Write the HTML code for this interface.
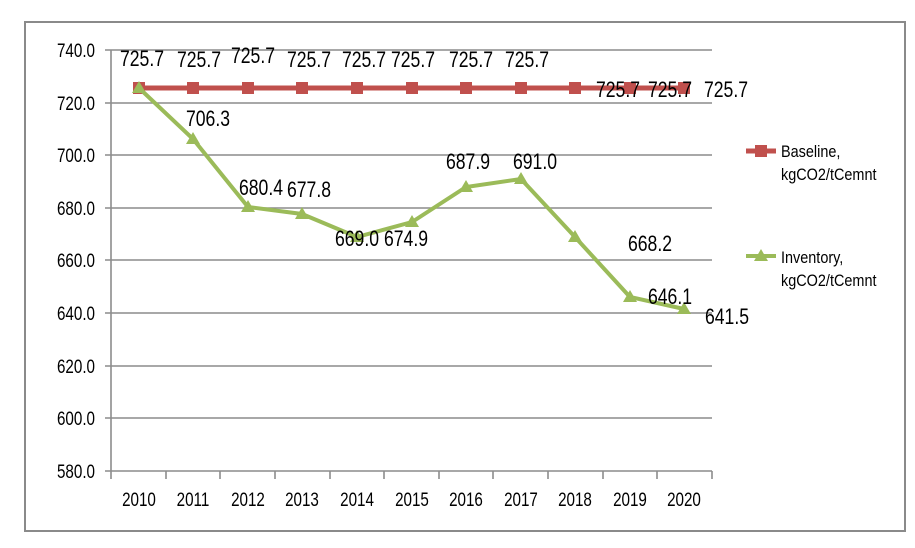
<!DOCTYPE html><html><head><style>body{margin:0;background:#fff}svg{display:block}text{font-family:"Liberation Sans",sans-serif;fill:#000;transform-box:fill-box;transform-origin:center;transform:scaleX(.8)}.r text{transform-origin:right center}.l text{transform-origin:left center;transform:scaleX(.85)}</style></head><body>
<svg width="915" height="548" xmlns="http://www.w3.org/2000/svg">
<rect x="25" y="22" width="880" height="509" fill="#fff" stroke="#8a8a8a" stroke-width="2"/>
<g stroke="#8c8c8c" stroke-width="1.6">
<line x1="105" y1="50" x2="712" y2="50"/><line x1="105" y1="103" x2="712" y2="103"/><line x1="105" y1="155" x2="712" y2="155"/><line x1="105" y1="208" x2="712" y2="208"/><line x1="105" y1="260" x2="712" y2="260"/><line x1="105" y1="313" x2="712" y2="313"/><line x1="105" y1="366" x2="712" y2="366"/><line x1="105" y1="418" x2="712" y2="418"/><line x1="105" y1="471" x2="712" y2="471"/>
<line x1="111" y1="50" x2="111" y2="479"/>
<line x1="166" y1="471" x2="166" y2="479"/><line x1="220" y1="471" x2="220" y2="479"/><line x1="275" y1="471" x2="275" y2="479"/><line x1="330" y1="471" x2="330" y2="479"/><line x1="384" y1="471" x2="384" y2="479"/><line x1="439" y1="471" x2="439" y2="479"/><line x1="493" y1="471" x2="493" y2="479"/><line x1="548" y1="471" x2="548" y2="479"/><line x1="603" y1="471" x2="603" y2="479"/><line x1="657" y1="471" x2="657" y2="479"/><line x1="712" y1="471" x2="712" y2="479"/>
</g>
<g font-size="19" text-anchor="end" class="r">
<text x="95" y="57">740.0</text><text x="95" y="110">720.0</text><text x="95" y="162">700.0</text><text x="95" y="215">680.0</text><text x="95" y="267">660.0</text><text x="95" y="320">640.0</text><text x="95" y="373">620.0</text><text x="95" y="425">600.0</text><text x="95" y="478">580.0</text>
</g>
<g font-size="19" text-anchor="middle">
<text x="139" y="506">2010</text><text x="193" y="506">2011</text><text x="248" y="506">2012</text><text x="302" y="506">2013</text><text x="357" y="506">2014</text><text x="412" y="506">2015</text><text x="466" y="506">2016</text><text x="521" y="506">2017</text><text x="575" y="506">2018</text><text x="630" y="506">2019</text><text x="684" y="506">2020</text>
</g>
<polyline fill="none" stroke="#c0504d" stroke-width="5" points="139,88 193,88 248,88 302,88 357,88 412,88 466,88 521,88 575,88 630,88 684,88"/>
<g fill="#c0504d">
<rect x="133" y="82" width="12" height="12"/><rect x="187" y="82" width="12" height="12"/><rect x="242" y="82" width="12" height="12"/><rect x="296" y="82" width="12" height="12"/><rect x="351" y="82" width="12" height="12"/><rect x="406" y="82" width="12" height="12"/><rect x="460" y="82" width="12" height="12"/><rect x="515" y="82" width="12" height="12"/><rect x="569" y="82" width="12" height="12"/><rect x="624" y="82" width="12" height="12"/><rect x="678" y="82" width="12" height="12"/>
</g>
<polyline fill="none" stroke="#9bbb59" stroke-width="4" points="139,88 193,139 248,207 302,214 357,237 412,222 466,187 521,179 575,237 630,297 684,309"/>
<g fill="#9bbb59">
<path d="M139,81 l7,12 h-14z"/><path d="M193,132 l7,12 h-14z"/><path d="M248,200 l7,12 h-14z"/><path d="M302,207 l7,12 h-14z"/><path d="M357,230 l7,12 h-14z"/><path d="M412,215 l7,12 h-14z"/><path d="M466,180 l7,12 h-14z"/><path d="M521,172 l7,12 h-14z"/><path d="M575,230 l7,12 h-14z"/><path d="M630,290 l7,12 h-14z"/><path d="M684,302 l7,12 h-14z"/>
</g>
<g font-size="22" text-anchor="middle">
<text x="142" y="66">725.7</text><text x="199" y="67">725.7</text><text x="253" y="63">725.7</text><text x="309" y="67">725.7</text><text x="364" y="67">725.7</text><text x="413" y="67">725.7</text><text x="471" y="67">725.7</text><text x="527" y="67">725.7</text>
<text x="618" y="97">725.7</text><text x="670" y="97">725.7</text><text x="726" y="97">725.7</text>
<text x="208" y="126">706.3</text><text x="261" y="195">680.4</text><text x="309" y="197">677.8</text><text x="357" y="246">669.0</text><text x="406" y="246">674.9</text><text x="468" y="169">687.9</text><text x="535" y="169">691.0</text><text x="650" y="251">668.2</text><text x="670" y="304">646.1</text><text x="727" y="324">641.5</text>
</g>
<line x1="746" y1="151" x2="776" y2="151" stroke="#c0504d" stroke-width="5"/><rect x="755" y="145" width="12" height="12" fill="#c0504d"/>
<line x1="746" y1="256" x2="776" y2="256" stroke="#9bbb59" stroke-width="4"/><path d="M761,249 l7,12 h-14z" fill="#9bbb59"/>
<g font-size="17" class="l"><text x="781" y="157">Baseline,</text><text x="781" y="180">kgCO2/tCemnt</text><text x="781" y="263">Inventory,</text><text x="781" y="286">kgCO2/tCemnt</text></g>
</svg></body></html>
